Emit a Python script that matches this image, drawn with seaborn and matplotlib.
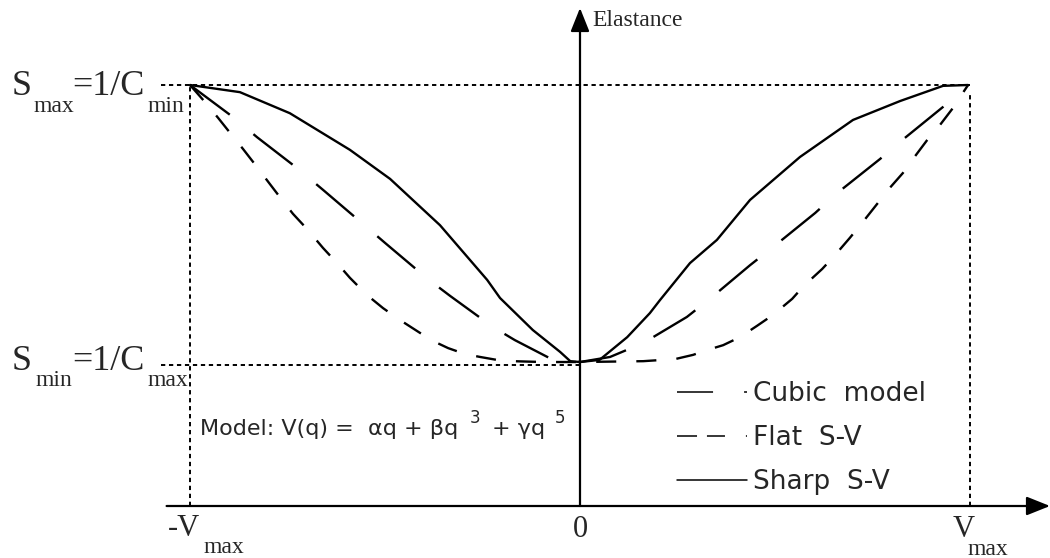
import matplotlib
matplotlib.use("Agg")
import matplotlib.pyplot as plt
import seaborn as sns
from matplotlib.lines import Line2D

sns.set_theme(style="white")
plt.rcParams['font.family'] = ['DejaVu Sans']

# ---- data (normalised: V in [-Vmax, Vmax] -> [-1, 1], elastance Smax = 1) ----
sharp_x = [-1.0, -0.872, -0.744, -0.590, -0.487, -0.359, -0.238, -0.205, -0.121, -0.051,
           -0.025, 0.0, 0.05, 0.121, 0.179, 0.205, 0.282, 0.351, 0.436, 0.564, 0.700,
           0.821, 0.931, 0.995]
sharp_y = [1.0, 0.983, 0.933, 0.846, 0.777, 0.667, 0.537, 0.494, 0.418, 0.366,
           0.344, 0.342, 0.347, 0.401, 0.458, 0.489, 0.577, 0.632, 0.727, 0.829, 0.917,
           0.962, 0.998, 1.0]

cubic_x = [-1.0, -0.890, -0.828, -0.726, -0.659, -0.559, -0.5, -0.390, -0.333, -0.223,
           -0.167, -0.069, 0.0, 0.077, 0.162, 0.274, 0.333, 0.436, 0.495, 0.603, 0.659,
           0.769, 0.826, 0.931, 0.995]
cubic_y = [1.0, 0.924, 0.876, 0.803, 0.751, 0.672, 0.625, 0.539, 0.499, 0.425,
           0.394, 0.347, 0.342, 0.354, 0.387, 0.449, 0.492, 0.572, 0.615, 0.696, 0.743,
           0.824, 0.869, 0.948, 1.0]

flat_x = [-1.0, -0.962, -0.928, -0.897, -0.864, -0.828, -0.797, -0.764, -0.736, -0.700,
          -0.659, -0.623, -0.590, -0.546, -0.505, -0.462, -0.410, -0.377, -0.338, -0.295,
          -0.256, -0.213, -0.172, -0.095, 0.0, 0.162, 0.244, 0.290, 0.328, 0.367, 0.410,
          0.454, 0.495, 0.544, 0.574, 0.621, 0.654, 0.692, 0.723, 0.764, 0.790, 0.828,
          0.856, 0.890, 0.923, 0.956, 0.995]
flat_y = [1.0, 0.960, 0.922, 0.886, 0.848, 0.805, 0.767, 0.727, 0.694, 0.658,
          0.613, 0.577, 0.542, 0.501, 0.470, 0.442, 0.411, 0.392, 0.375, 0.361,
          0.354, 0.347, 0.344, 0.342, 0.342, 0.344, 0.349, 0.359, 0.371, 0.382, 0.401,
          0.428, 0.454, 0.492, 0.523, 0.563, 0.596, 0.637, 0.672, 0.720, 0.751, 0.791,
          0.827, 0.869, 0.905, 0.945, 1.0]

s_max = 1.0
s_min_ref = 0.335
v_min, v_max = -1.0, 1.0
legend_labels = ["Cubic  model", "Flat  S-V", "Sharp  S-V"]

# ---- figure ----
W, H = 1050, 558
fig = plt.figure(figsize=(W / 100, H / 100), dpi=100)
ax = fig.add_axes([0, 0, 1, 1])
ax.set_xlim(-580 / 390, 470 / 390)
ax.set_ylim(-52 / 421, 506 / 421)
ax.axis("off")

# reference dotted lines
dot = dict(color="black", lw=1.4, linestyle=(0, (2.2, 1.9)))
ax.plot([-1.075, v_max], [s_max, s_max], **dot)
ax.plot([-1.075, 0], [s_min_ref, s_min_ref], **dot)
ax.plot([v_min, v_min], [0, s_max], **dot)
ax.plot([v_max, v_max], [0, s_max - 0.02], **dot)

# axes with arrows
arrow = dict(arrowstyle="-|>,head_length=0.4,head_width=0.16", lw=1.6, color="black",
             mutation_scale=36, shrinkA=0, shrinkB=0)
ax.annotate("", xy=(470 / 390, 0), xytext=(-1.06, 0), arrowprops=arrow)
ax.annotate("", xy=(0, 498 / 421), xytext=(0, 0), arrowprops=arrow)

# curves
sns.lineplot(x=sharp_x, y=sharp_y, ax=ax, color="black", lw=1.7, sort=False,
             estimator=None)
sns.lineplot(x=cubic_x, y=cubic_y, ax=ax, color="black", lw=1.7, sort=False,
             estimator=None, linestyle=(0, (21, 13)))
sns.lineplot(x=flat_x, y=flat_y, ax=ax, color="black", lw=1.7, sort=False,
             estimator=None, linestyle=(0, (8.5, 8.5)))

# legend
handles = [
    Line2D([], [], color="black", lw=1.1, linestyle=(0, (23.6, 20.3, 2.0, 80))),
    Line2D([], [], color="black", lw=1.1, linestyle=(0, (13.1, 6.5, 11.8, 13.7, 2.0, 80))),
    Line2D([], [], color="black", lw=1.1),
]
ax.legend(handles, legend_labels, loc="upper left",
          bbox_to_anchor=(677 / W, 1 - 381 / H), bbox_transform=fig.transFigure,
          frameon=False, fontsize=19, handlelength=2.65, handletextpad=0.22,
          borderpad=0, borderaxespad=0, labelspacing=0.69)


def ftext(x, y, s, size, family="Liberation Serif", **kw):
    fig.text(x / W, 1 - y / H, s, fontsize=size, family=family, va="baseline",
             ha=kw.pop("ha", "left"), **kw)


big, sub = 26, 17
# S_max = 1/C_min
ftext(12, 95, "S", big)
ftext(33, 112, "max", sub)
ftext(72, 95, "=1/C", big)
ftext(147, 112, "min", sub)
# S_min = 1/C_max
ftext(12, 370, "S", big)
ftext(35, 386, "min", sub)
ftext(72, 370, "=1/C", big)
ftext(147, 386, "max", sub)
# x labels
ftext(168, 536, "-V", 22)
ftext(203, 553, "max", sub)
ftext(580, 537, "0", 22, ha="center")
ftext(953, 537, "V", 22)
ftext(968, 555, "max", sub)
# y axis label
ftext(592, 26, "Elastance", 17)

# model text
mfont = 16
ftext(200, 435, "Model: V(q) =  \u03b1q + \u03b2q", mfont, family="DejaVu Sans")
ftext(470, 423, "3", 12, family="DejaVu Sans")
ftext(492, 435, "+ \u03b3q", mfont, family="DejaVu Sans")
ftext(555, 423, "5", 12, family="DejaVu Sans")

fig.savefig("out.png", dpi=100)
